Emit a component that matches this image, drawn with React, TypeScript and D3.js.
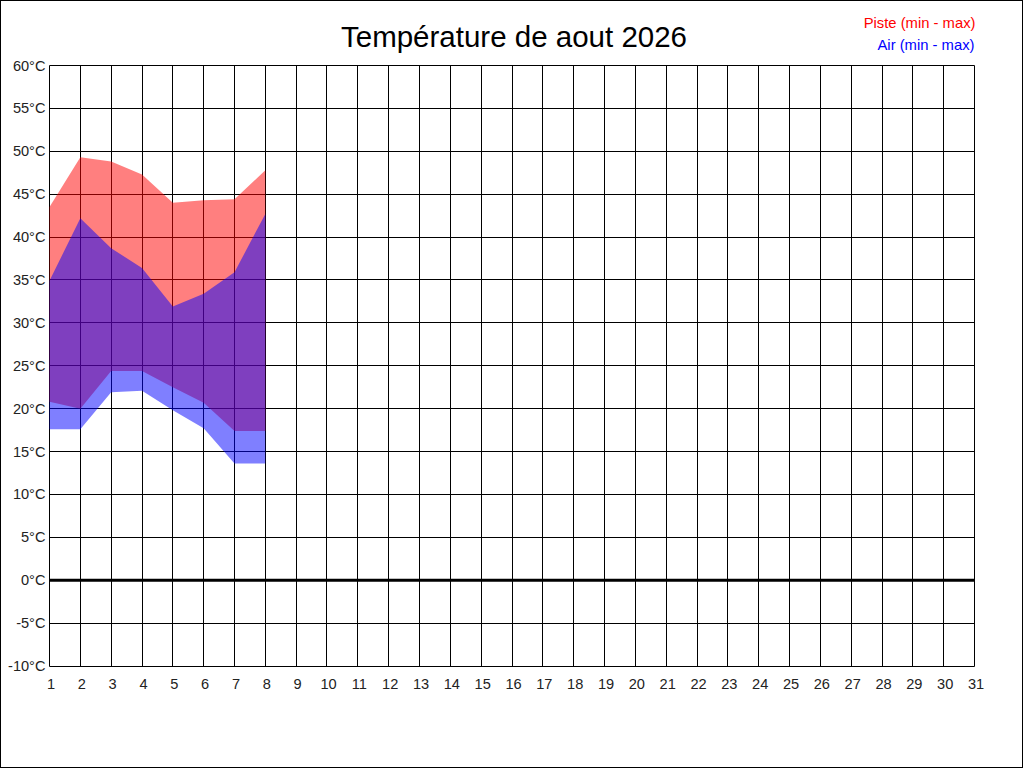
import React, { useEffect, useRef } from 'react';
import * as d3 from 'd3';

const monthDays = [
  1, 2, 3, 4, 5, 6, 7, 8, 9, 10, 11, 12, 13, 14, 15, 16, 17, 18, 19, 20, 21, 22, 23, 24, 25, 26, 27,
  28, 29, 30, 31,
];
const tempTicks = [-10, -5, 0, 5, 10, 15, 20, 25, 30, 35, 40, 45, 50, 55, 60];

const dataDays = [1, 2, 3, 4, 5, 6, 7, 8];
const pisteMax = [43.5, 49.3, 48.8, 47.3, 44.0, 44.3, 44.4, 47.8];
const pisteMin = [20.8, 20.0, 24.4, 24.4, 22.5, 20.7, 17.4, 17.4];
const airMax = [34.9, 42.2, 38.7, 36.4, 31.9, 33.4, 35.9, 42.7];
const airMin = [17.6, 17.6, 21.9, 22.1, 19.8, 17.7, 13.6, 13.6];

interface Band {
  day: number;
  min: number;
  max: number;
}

const W = 1024;
const H = 768;
const FONT = '"Liberation Sans", Arial, sans-serif';

const App: React.FC = () => {
  const svgRef = useRef<SVGSVGElement>(null);

  useEffect(() => {
    if (!svgRef.current) return;
    const svg = d3.select(svgRef.current);
    svg.selectAll('*').remove();

    const left = 49.5;
    const right = 974.5;
    const top = 65.5;
    const bottom = 666;

    const x = d3.scaleLinear().domain([1, 31]).range([left, right]);
    const y = d3.scaleLinear().domain([-10, 60]).range([bottom, top]);
    const crisp = (v: number) => Math.round(v - 0.5) + 0.5;

    svg
      .append('rect')
      .attr('x', 0.5)
      .attr('y', 0.5)
      .attr('width', W - 2)
      .attr('height', H - 1)
      .attr('fill', 'white')
      .attr('stroke', 'black');

    // grille
    const grid = svg.append('g').attr('stroke', 'black').attr('stroke-width', 1);
    grid
      .selectAll('line.v')
      .data(monthDays)
      .enter()
      .append('line')
      .attr('x1', (d) => crisp(x(d)))
      .attr('x2', (d) => crisp(x(d)))
      .attr('y1', crisp(y(60)))
      .attr('y2', crisp(y(-10)));
    grid
      .selectAll('line.h')
      .data(tempTicks)
      .enter()
      .append('line')
      .attr('x1', crisp(x(1)))
      .attr('x2', crisp(x(31)))
      .attr('y1', (d) => crisp(y(d)))
      .attr('y2', (d) => crisp(y(d)));

    const band = (mins: number[], maxs: number[]): Band[] =>
      dataDays.map((d, i) => ({ day: d, min: mins[i], max: maxs[i] }));

    const area = d3
      .area<Band>()
      .x((d) => x(d.day))
      .y0((d) => y(d.min))
      .y1((d) => y(d.max));

    svg
      .append('path')
      .datum(band(pisteMin, pisteMax))
      .attr('d', area)
      .attr('fill', 'rgba(255,0,0,0.5)');

    svg
      .append('path')
      .datum(band(airMin, airMax))
      .attr('d', area)
      .attr('fill', 'rgba(0,0,255,0.5)');

    // ligne du zéro
    svg
      .append('line')
      .attr('x1', x(1))
      .attr('x2', x(31))
      .attr('y1', y(0))
      .attr('y2', y(0))
      .attr('stroke', 'black')
      .attr('stroke-width', 3);

    svg
      .append('g')
      .selectAll('text')
      .data(tempTicks)
      .enter()
      .append('text')
      .attr('x', 45.5)
      .attr('y', (d) => y(d) + 5)
      .attr('text-anchor', 'end')
      .attr('font-family', FONT)
      .attr('font-size', 14.6)
      .attr('fill', '#222')
      .text((d) => `${d}°C`);

    svg
      .append('g')
      .selectAll('text')
      .data(monthDays)
      .enter()
      .append('text')
      .attr('x', (d) => x(d) + 1.5)
      .attr('y', 689)
      .attr('text-anchor', 'middle')
      .attr('font-family', FONT)
      .attr('font-size', 14.6)
      .attr('fill', '#222')
      .text((d) => d);

    svg
      .append('text')
      .attr('x', 514)
      .attr('y', 46.5)
      .attr('text-anchor', 'middle')
      .attr('font-family', FONT)
      .attr('font-size', 29.5)
      .attr('fill', 'black')
      .text('Température de aout 2026');

    svg
      .append('text')
      .attr('x', 975.5)
      .attr('y', 28)
      .attr('text-anchor', 'end')
      .attr('font-family', FONT)
      .attr('font-size', 14.8)
      .attr('fill', 'red')
      .text('Piste (min - max)');

    svg
      .append('text')
      .attr('x', 974.5)
      .attr('y', 50)
      .attr('text-anchor', 'end')
      .attr('font-family', FONT)
      .attr('font-size', 14.8)
      .attr('fill', 'blue')
      .text('Air (min - max)');
  }, []);

  return (
    <svg
      ref={svgRef}
      width={W}
      height={H}
      style={{ position: 'absolute', left: 0, top: 0, display: 'block' }}
    />
  );
};

export default App;
